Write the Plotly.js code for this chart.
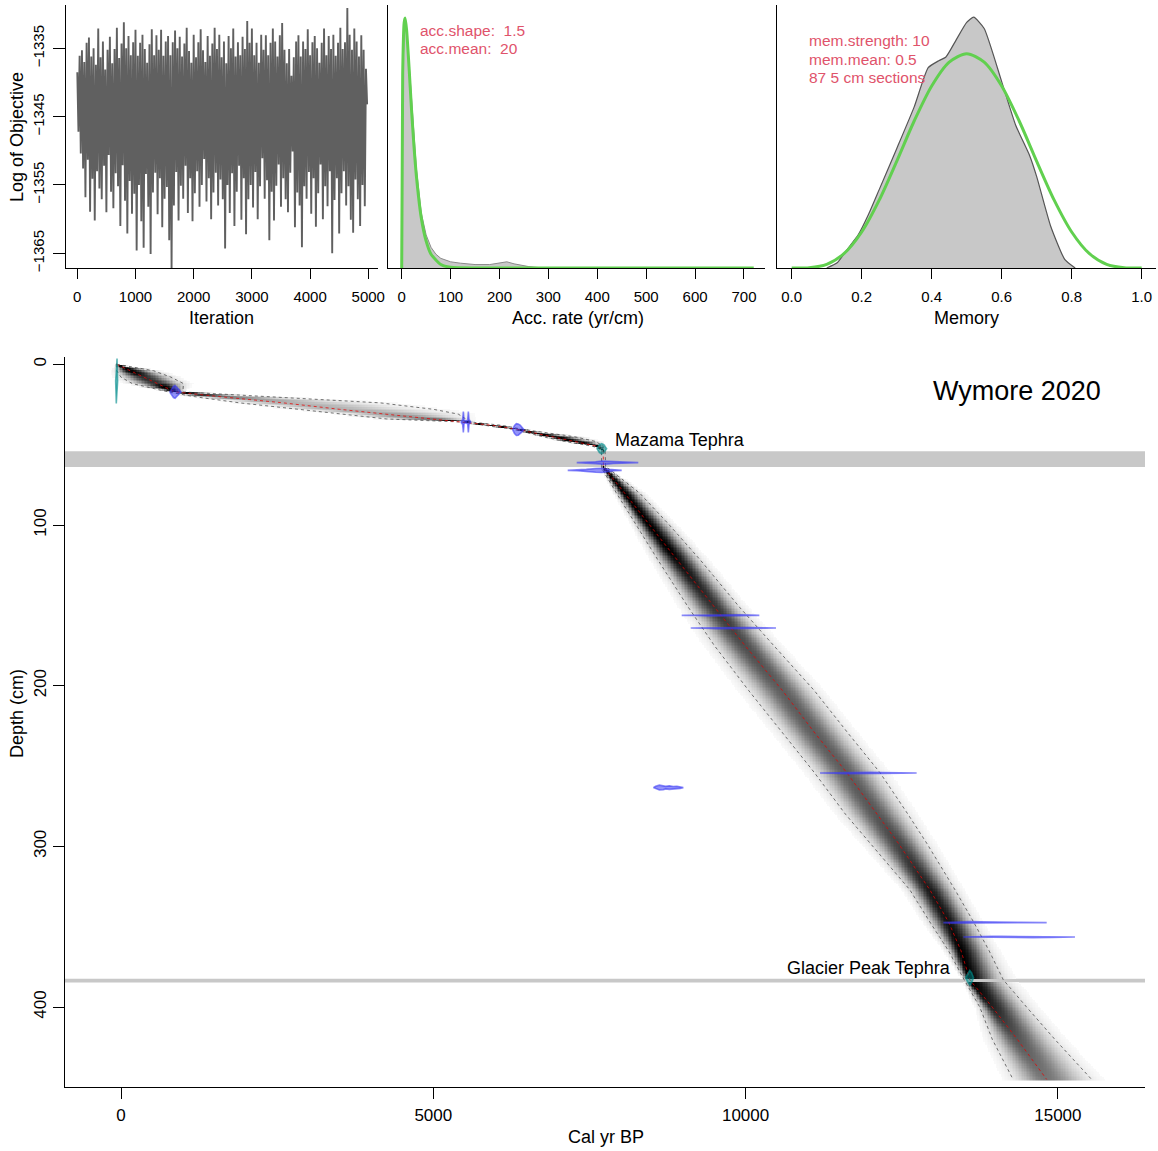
<!DOCTYPE html>
<html>
<head>
<meta charset="utf-8">
<script src="https://cdn.plot.ly/plotly-3.0.1.min.js"></script>
<style>
  html, body { margin: 0; padding: 0; background: #fff; }
  #chart { width: 1158px; height: 1151px; }
</style>
</head>
<body>
<div id="chart"></div>
<script>
// ---------------- MCMC run: log of objective, one value every 20 iterations ----------------
const iterStep = 20;
const logObjective = [
  -1338.5,-1347.2,-1336.1,-1350.4,-1335.3,-1352.6,-1337.0,-1356.8,-1334.2,-1351.3,
  -1333.4,-1358.9,-1336.2,-1354.1,-1335.0,-1360.2,-1337.4,-1353.0,-1332.1,-1355.5,
  -1336.3,-1357.1,-1334.0,-1352.2,-1338.1,-1359.0,-1335.2,-1350.6,-1333.3,-1356.0,
  -1337.2,-1358.4,-1335.1,-1353.3,-1332.0,-1355.2,-1336.4,-1361.0,-1334.3,-1352.1,
  -1331.2,-1357.3,-1335.0,-1362.1,-1333.2,-1354.4,-1336.0,-1359.2,-1334.1,-1356.3,
  -1332.3,-1364.6,-1336.1,-1355.0,-1334.2,-1360.3,-1333.0,-1364.2,-1335.1,-1353.4,
  -1337.1,-1358.2,-1334.4,-1365.1,-1332.2,-1356.1,-1336.0,-1353.2,-1333.1,-1359.3,
  -1335.2,-1354.0,-1332.3,-1361.2,-1336.1,-1357.0,-1334.0,-1355.3,-1333.2,-1363.1,
  -1336.0,-1367.2,-1334.1,-1358.0,-1332.4,-1353.1,-1335.0,-1360.2,-1333.3,-1355.1,
  -1336.2,-1357.0,-1334.3,-1352.2,-1332.0,-1359.1,-1335.4,-1354.0,-1337.1,-1360.3,
  -1333.0,-1356.2,-1336.3,-1353.0,-1334.1,-1358.2,-1332.2,-1355.0,-1335.3,-1351.2,
  -1337.0,-1357.4,-1333.2,-1354.0,-1336.1,-1360.0,-1334.3,-1356.1,-1332.0,-1353.2,
  -1335.1,-1358.0,-1333.0,-1354.2,-1336.3,-1357.1,-1334.0,-1364.3,-1337.2,-1355.0,
  -1333.2,-1359.1,-1335.0,-1353.3,-1332.1,-1361.0,-1336.2,-1356.0,-1334.1,-1352.2,
  -1336.0,-1360.1,-1333.3,-1354.0,-1335.1,-1362.2,-1331.0,-1357.1,-1334.2,-1355.0,
  -1332.1,-1358.3,-1336.0,-1353.1,-1334.2,-1360.0,-1337.1,-1355.2,-1333.0,-1351.1,
  -1335.2,-1357.0,-1333.1,-1354.3,-1336.0,-1363.1,-1334.2,-1356.0,-1332.1,-1360.2,
  -1334.0,-1355.1,-1336.2,-1352.0,-1333.1,-1358.2,-1331.3,-1354.0,-1335.2,-1357.1,
  -1337.2,-1359.0,-1335.1,-1353.2,-1339.0,-1350.1,-1336.3,-1361.2,-1334.0,-1356.1,
  -1333.1,-1358.0,-1336.2,-1364.1,-1334.0,-1355.2,-1335.1,-1357.0,-1332.2,-1353.1,
  -1336.0,-1359.2,-1334.1,-1354.0,-1333.2,-1361.1,-1335.0,-1356.2,-1337.1,-1352.0,
  -1334.2,-1360.0,-1332.1,-1355.2,-1336.0,-1358.1,-1333.2,-1353.0,-1335.1,-1365.0,
  -1333.0,-1357.2,-1336.1,-1354.0,-1334.2,-1362.1,-1332.0,-1356.2,-1335.1,-1353.0,
  -1334.1,-1358.0,-1329.1,-1355.2,-1333.0,-1360.1,-1335.2,-1362.0,-1332.1,-1354.2,
  -1334.0,-1357.1,-1336.2,-1361.0,-1333.1,-1355.0,-1335.2,-1358.1,-1338.0,-1343.2
];
const iterTicks = [0, 1000, 2000, 3000, 4000, 5000];
const objTicks = [-1365, -1355, -1345, -1335];

// ---------------- accumulation rate: prior (green) and posterior (grey) ----------------
const accPriorX = [0, 2, 5, 7, 10, 15, 20, 25, 30, 40, 50, 60, 80, 100, 150, 200, 300, 400, 500, 600, 720];
const accPrior  = [0, 0.0282, 0.0356, 0.0363, 0.0346, 0.0292, 0.0231, 0.0178, 0.0134, 0.0073, 0.0039, 0.0020, 0.0005, 0.0001, 0, 0, 0, 0, 0, 0, 0];
const accPostX  = [0, 3, 6, 9, 12, 16, 20, 25, 30, 40, 50, 60, 70, 80, 100, 120, 150, 180, 200, 215, 230, 260, 290];
const accPost   = [0, 0.0300, 0.0355, 0.0350, 0.0330, 0.0290, 0.0240, 0.0190, 0.0145, 0.0080, 0.0048, 0.0030, 0.0020, 0.0014, 0.0009, 0.0007, 0.0005, 0.0005, 0.0007, 0.0009, 0.0006, 0.0002, 0];
const accTicks  = [0, 100, 200, 300, 400, 500, 600, 700];

// ---------------- memory: prior (green) and posterior (grey) ----------------
const memPriorX = [0, 0.05, 0.1, 0.15, 0.2, 0.25, 0.3, 0.35, 0.4, 0.45, 0.5, 0.55, 0.6, 0.65, 0.7, 0.75, 0.8, 0.85, 0.9, 0.95, 1.0];
const memPrior  = [0, 0.003, 0.041, 0.167, 0.413, 0.779, 1.225, 1.688, 2.090, 2.364, 2.461, 2.364, 2.090, 1.688, 1.225, 0.779, 0.413, 0.167, 0.041, 0.003, 0];
const memPostX  = [0.10, 0.13, 0.16, 0.19, 0.22, 0.25, 0.30, 0.35, 0.39, 0.42, 0.44, 0.47, 0.50, 0.52, 0.55, 0.60, 0.64, 0.68, 0.70, 0.74, 0.78, 0.81];
const memPost   = [0, 0.06, 0.22, 0.38, 0.62, 0.90, 1.37, 1.85, 2.30, 2.38, 2.42, 2.62, 2.82, 2.88, 2.75, 2.14, 1.64, 1.29, 1.05, 0.48, 0.10, 0];
const memTicks  = [0, 0.2, 0.4, 0.6, 0.8, 1.0];

// ---------------- age-depth model: 95% range and median (cal yr BP) ----------------
const modelDepth = [0, 4, 8, 12, 17.2, 20, 24, 28, 31, 34, 35.9, 38, 40.6, 45, 48, 51, 52.5, 54, 64, 65, 80, 100, 122, 151, 175, 203, 230, 254, 280, 298, 327, 347, 365, 383, 400, 420, 445];
const ageMin    = [-78, -70, 0, 180, 760, 1150, 1900, 2800, 3550, 4250, 5450, 5800, 6300, 6750, 7100, 7550, 7660, 7690, 7690, 7700, 7930, 8250, 8600, 9080, 9500, 10050, 10600, 11100, 11600, 12000, 12630, 12950, 13250, 13500, 13750, 13950, 14283];
const ageMedian = [-70, 150, 360, 580, 865, 1550, 2600, 3500, 4230, 5000, 5524, 5950, 6361, 6890, 7270, 7620, 7696, 7720, 7725, 7750, 8060, 8460, 8910, 9500, 9990, 10590, 11120, 11618, 12100, 12445, 12950, 13250, 13450, 13590, 13950, 14350, 14821];
const ageMax    = [-62, 520, 800, 1000, 990, 2300, 4150, 5000, 5400, 5520, 5600, 6100, 6450, 7250, 7600, 7720, 7740, 7750, 7760, 7810, 8300, 8780, 9280, 9900, 10450, 11100, 11650, 12150, 12600, 12900, 13353, 13650, 13900, 14126, 14500, 14950, 15541];

// ---------------- tephra layers (slumps), depth in cm ----------------
const slumpNames  = ['Mazama Tephra', 'Glacier Peak Tephra'];
const slumpTop    = [54.1, 382.3];
const slumpBottom = [63.9, 384.6];

// ---------------- dated levels: calibrated distributions ----------------
// kind: 'cal' = calendar age (teal), 'c14' = radiocarbon (blue)
const dateKind  = ['cal', 'c14', 'c14', 'c14', 'cal', 'c14', 'c14', 'c14', 'c14', 'c14', 'c14', 'c14', 'c14', 'cal'];
const dateDepth = [10.4, 17.2, 35.9, 40.6, 52.5, 61.2, 66.0, 156.2, 164.1, 254.3, 263.4, 347.4, 356.4, 381.7];
const dateAges = [
  [-86, -76, -64, -54],
  [780, 810, 840, 865, 890, 920, 960],
  [5440, 5470, 5481, 5492, 5520, 5550, 5561, 5572, 5600],
  [6270, 6300, 6330, 6360, 6390, 6420, 6450],
  [7620, 7660, 7696, 7730, 7775],
  [7296, 7450, 7600, 7700, 7780, 7880, 8000, 8150, 8282],
  [7152, 7300, 7450, 7600, 7700, 7800, 7900, 8016],
  [8977, 9200, 9400, 9550, 9700, 9900, 10100, 10220],
  [9121, 9350, 9550, 9700, 9850, 10050, 10300, 10487],
  [11191, 11400, 11600, 11800, 12000, 12200, 12500, 12739],
  [8523, 8560, 8620, 8680, 8720, 8780, 8840, 8900, 8950, 9003],
  [13166, 13300, 13450, 13600, 13750, 13900, 14100, 14400, 14821],
  [13486, 13650, 13800, 13950, 14100, 14300, 14600, 14900, 15274],
  [13520, 13560, 13590, 13620, 13650]
];
// half-height of each drawn distribution (cm above and below the level)
const dateHalfHeight = [
  [0, 14, 14, 0],
  [0, 2.0, 3.5, 4.0, 3.2, 1.8, 0],
  [0, 1.5, 6.5, 1.2, 0.5, 1.2, 6.5, 1.5, 0],
  [0, 2.5, 3.7, 3.5, 2.8, 1.5, 0],
  [0, 2.5, 3.2, 2.5, 0],
  [0, 0.2, 0.6, 1.0, 0.9, 0.5, 0.25, 0.15, 0],
  [0, 0.2, 0.6, 1.2, 1.3, 0.7, 0.2, 0],
  [0, 0.15, 0.35, 0.5, 0.45, 0.3, 0.15, 0],
  [0, 0.15, 0.35, 0.5, 0.45, 0.3, 0.15, 0],
  [0, 0.2, 0.45, 0.5, 0.4, 0.3, 0.2, 0],
  [0, 0.8, 1.5, 1.3, 0.8, 1.1, 0.7, 0.8, 0.5, 0],
  [0, 0.3, 0.55, 0.6, 0.5, 0.35, 0.25, 0.2, 0],
  [0, 0.3, 0.45, 0.5, 0.4, 0.3, 0.35, 0.2, 0],
  [0, 3, 4.5, 3, 0]
];
const ageTicks   = [0, 5000, 10000, 15000];
const depthTicks = [0, 100, 200, 300, 400];

// ---------------- page geometry helpers ----------------
const W = 1158, H = 1151;
const px = v => v / W;
const py = v => 1 - v / H;
const FONT = 'Liberation Sans, Arial, Helvetica, sans-serif';
const RED_TXT = '#DF536B';
const GREEN = '#61D04F';

// ---------------- grey-scale model image (per-depth age distribution) ----------------
function interp(v, xs, ys) {
  if (v <= xs[0]) return ys[0];
  for (let i = 1; i < xs.length; i++) {
    if (v <= xs[i]) {
      const t = (v - xs[i - 1]) / (xs[i] - xs[i - 1]);
      return ys[i - 1] + t * (ys[i] - ys[i - 1]);
    }
  }
  return ys[ys.length - 1];
}
const ageGrid = [];
for (let a = -300; a <= 16300; a += 25) ageGrid.push(a);
const depthGrid = [];
for (let d = 0; d <= 445; d += 1) depthGrid.push(d);
const zModel = depthGrid.map(d => {
  const inSlump = slumpTop.some((t, i) => d > t && d < slumpBottom[i]);
  if (inSlump) return ageGrid.map(() => null);
  const lo = interp(d, modelDepth, ageMin);
  const me = interp(d, modelDepth, ageMedian);
  const hi = interp(d, modelDepth, ageMax);
  const sdL = Math.max((me - lo) / 1.96, 4);
  const sdR = Math.max((hi - me) / 1.96, 4);
  const peak = Math.min(1, 165 / ((sdL + sdR) / 2));
  return ageGrid.map(a => {
    const s = a < me ? sdL : sdR;
    const v = peak * Math.exp(-0.5 * Math.pow((a - me) / s, 2));
    return v < 0.02 ? null : v;
  });
});

// ---------------- traces ----------------
const traces = [];

// MCMC trace
traces.push({
  type: 'scatter', mode: 'lines', xaxis: 'x', yaxis: 'y',
  x: logObjective.map((_, i) => i * iterStep), y: logObjective,
  line: { color: '#606060', width: 1.9, simplify: false }, hoverinfo: 'skip'
});

// acc. rate posterior + prior
traces.push({
  type: 'scatter', mode: 'lines', xaxis: 'x2', yaxis: 'y2',
  x: accPostX, y: accPost, fill: 'tozeroy', fillcolor: '#c8c8c8',
  line: { color: '#8a8a8a', width: 1 }, hoverinfo: 'skip'
});
traces.push({
  type: 'scatter', mode: 'lines', xaxis: 'x2', yaxis: 'y2',
  x: accPriorX, y: accPrior, line: { color: GREEN, width: 3, shape: 'spline', smoothing: 0.6 }, hoverinfo: 'skip'
});

// memory posterior + prior
traces.push({
  type: 'scatter', mode: 'lines', xaxis: 'x3', yaxis: 'y3',
  x: memPostX, y: memPost, fill: 'tozeroy', fillcolor: '#c8c8c8',
  line: { color: '#555555', width: 1.2, shape: 'spline', smoothing: 0.5 }, hoverinfo: 'skip'
});
traces.push({
  type: 'scatter', mode: 'lines', xaxis: 'x3', yaxis: 'y3',
  x: memPriorX, y: memPrior, line: { color: GREEN, width: 3, shape: 'spline', smoothing: 0.8 }, hoverinfo: 'skip'
});

// age-depth model grey-scale
traces.push({
  type: 'heatmap', xaxis: 'x4', yaxis: 'y4',
  x: ageGrid, y: depthGrid, z: zModel, zmin: 0, zmax: 1, zsmooth: false,
  colorscale: [[0, '#ffffff'], [0.5, '#7a7a7a'], [1, '#000000']],
  showscale: false, hoverinfo: 'skip'
});

// 95% range (dotted grey) and median (dotted red)
[ageMin, ageMax].forEach(arr => traces.push({
  type: 'scatter', mode: 'lines', xaxis: 'x4', yaxis: 'y4',
  x: arr, y: modelDepth, line: { color: 'rgba(70,70,70,0.75)', width: 1, dash: 'dot' }, hoverinfo: 'skip'
}));
traces.push({
  type: 'scatter', mode: 'lines', xaxis: 'x4', yaxis: 'y4',
  x: ageMedian, y: modelDepth, line: { color: 'rgba(235,0,0,0.75)', width: 1, dash: 'dot' }, hoverinfo: 'skip'
});

// calibrated date distributions
dateDepth.forEach((d, i) => {
  const ages = dateAges[i], hh = dateHalfHeight[i];
  const xs = ages.concat(ages.slice().reverse());
  const ys = ages.map((_, j) => d - hh[j]).concat(ages.map((_, j) => d + hh[j]).reverse());
  const isCal = dateKind[i] === 'cal';
  traces.push({
    type: 'scatter', mode: 'lines', xaxis: 'x4', yaxis: 'y4',
    x: xs, y: ys, fill: 'toself',
    fillcolor: isCal ? 'rgba(0,140,140,0.5)' : 'rgba(40,40,245,0.5)',
    line: { color: isCal ? 'rgba(0,140,140,0.6)' : 'rgba(60,60,245,0.6)', width: 1.6 },
    hoverinfo: 'skip'
  });
});

// ---------------- axes ----------------
const axBase = {
  showline: true, linecolor: '#000', linewidth: 1, mirror: false,
  ticks: 'outside', ticklen: 10, tickwidth: 1, tickcolor: '#000',
  showgrid: false, zeroline: false, fixedrange: true,
  tickfont: { family: FONT, size: 15, color: '#000' }
};
const topY = [py(268), py(5)];

const layout = {
  width: W, height: H,
  margin: { l: 0, r: 0, t: 0, b: 0 },
  paper_bgcolor: '#ffffff', plot_bgcolor: '#ffffff',
  showlegend: false,
  font: { family: FONT, color: '#000' },
  xaxis: Object.assign({}, axBase, {
    domain: [px(66), px(378)], range: [-194, 5167],
    tickmode: 'array', tickvals: iterTicks, ticklabelstandoff: 5, anchor: 'y'
  }),
  yaxis: Object.assign({}, axBase, {
    domain: topY, range: [-1367.15, -1328.66], ticklen: 12,
    tickmode: 'array', tickvals: objTicks, tickangle: -90, ticklabelstandoff: 3, anchor: 'x'
  }),
  xaxis2: Object.assign({}, axBase, {
    domain: [px(388.3), px(765)], range: [-27.4, 743],
    tickmode: 'array', tickvals: accTicks, ticklabelstandoff: 5, anchor: 'y2'
  }),
  yaxis2: Object.assign({}, axBase, {
    domain: topY, range: [0, 0.0382], ticks: '', showticklabels: false, anchor: 'x2'
  }),
  xaxis3: Object.assign({}, axBase, {
    domain: [px(777.3), px(1156)], range: [-0.0411, 1.0409],
    tickmode: 'array', tickvals: memTicks, tickformat: '.1f', ticklabelstandoff: 5, anchor: 'y3'
  }),
  yaxis3: Object.assign({}, axBase, {
    domain: topY, range: [0, 3.02], ticks: '', showticklabels: false, anchor: 'x3'
  }),
  xaxis4: Object.assign({}, axBase, {
    domain: [px(65), px(1145)], range: [-897, 16395], ticklen: 11,
    tickmode: 'array', tickvals: ageTicks, tickformat: 'd', ticklabelstandoff: 2, anchor: 'y4',
    tickfont: { family: FONT, size: 17, color: '#000' }
  }),
  yaxis4: Object.assign({}, axBase, {
    domain: [py(1087), py(356.7)], range: [449.7, -4.73], ticklen: 11,
    tickmode: 'array', tickvals: depthTicks, tickangle: -90, ticklabelstandoff: 0, anchor: 'x4',
    tickfont: { family: FONT, size: 17, color: '#000' }
  }),
  shapes: slumpTop.map((t, i) => ({
    type: 'rect', xref: 'x4 domain', yref: 'y4', x0: 0, x1: 1, y0: t, y1: slumpBottom[i],
    fillcolor: 'rgb(200,200,200)', line: { width: 0 }, layer: 'below'
  })),
  annotations: []
};

function label(text, x, y, opts) {
  layout.annotations.push(Object.assign({
    text: text, xref: 'paper', yref: 'paper', x: px(x), y: py(y),
    showarrow: false, xanchor: 'center', yanchor: 'middle',
    font: { family: FONT, size: 18, color: '#000' }
  }, opts || {}));
}

// axis titles
label('Log of Objective', 17, 137, { textangle: -90 });
label('Iteration', 222, 318);
label('Acc. rate (yr/cm)', 578, 318);
label('Memory', 966, 318);
label('Cal yr BP', 606, 1137);
label('Depth (cm)', 17, 714, { textangle: -90 });

// prior settings
const redFont = { family: FONT, size: 15.5, color: RED_TXT };
label('acc.shape:\u00a0\u00a01.5', 418, 30, { xanchor: 'left', font: redFont });
label('acc.mean:\u00a0\u00a020', 418, 48, { xanchor: 'left', font: redFont });
label('mem.strength: 10', 807, 40, { xanchor: 'left', font: redFont });
label('mem.mean: 0.5', 807, 59, { xanchor: 'left', font: redFont });
label('87 5 cm sections', 807, 78, { xanchor: 'left', font: redFont });

// core name and tephra names
label('Wymore 2020', 1103, 391, { xanchor: 'right', font: { family: FONT, size: 27, color: '#000' } });
label(slumpNames[0], 613, 440, { xanchor: 'left' });
label(slumpNames[1], 953, 968, { xanchor: 'right' });

Plotly.newPlot('chart', traces, layout, { staticPlot: true, displayModeBar: false });
</script>
</body>
</html>
